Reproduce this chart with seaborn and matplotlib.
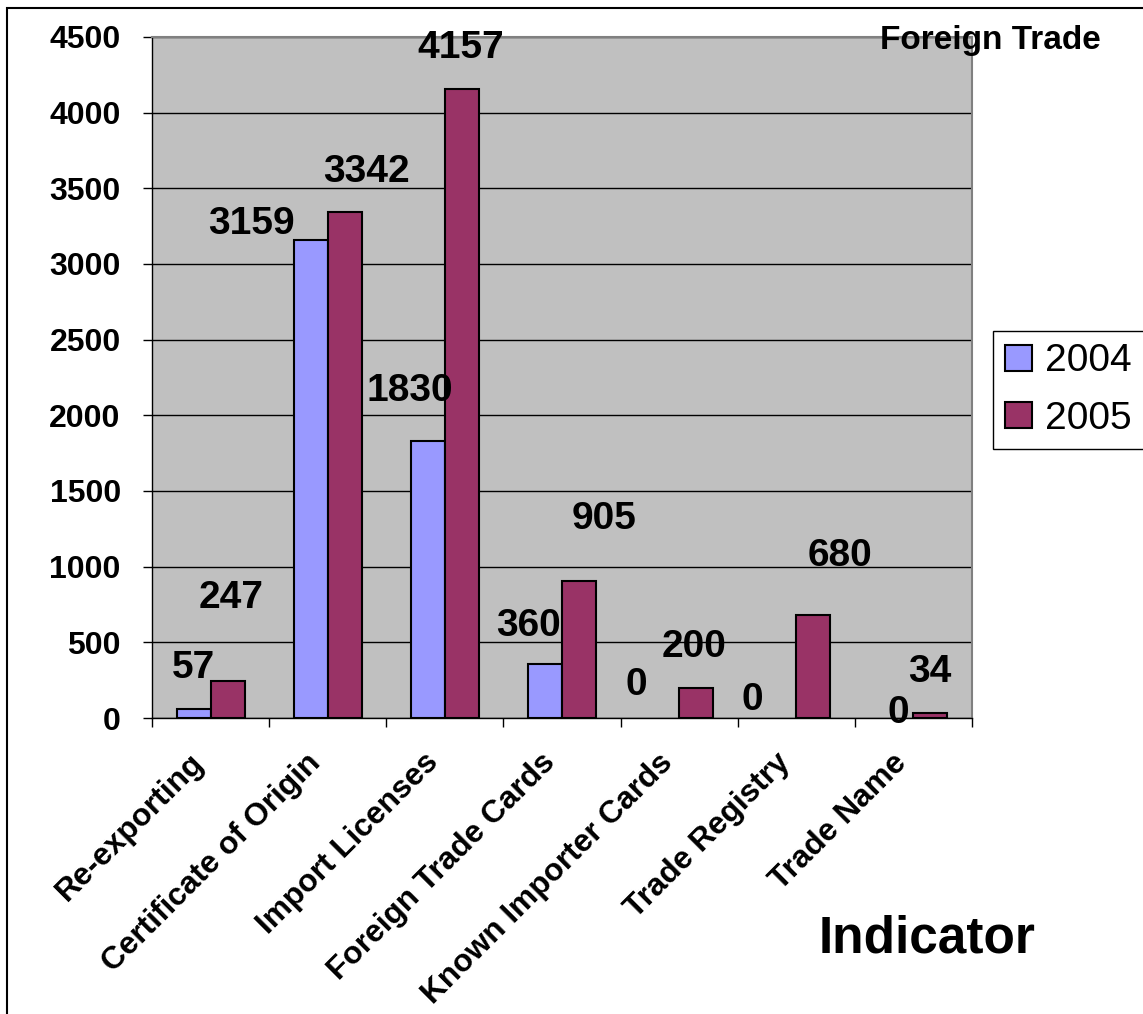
import matplotlib
matplotlib.use("Agg")
import matplotlib.pyplot as plt
import matplotlib.transforms as mtransforms
from matplotlib.patches import Rectangle
from matplotlib.ticker import FixedLocator
import numpy as np
import pandas as pd
import seaborn as sns

# ---------------- data ----------------
categories = ["Re-exporting", "Certificate of Origin", "Import Licenses",
              "Foreign Trade Cards", "Known Importer Cards", "Trade Registry",
              "Trade Name"]
years = ["2004", "2005"]
values_2004 = [57, 3159, 1830, 360, 0, 0, 0]
values_2005 = [247, 3342, 4157, 905, 200, 680, 34]
y_ticks = [0, 500, 1000, 1500, 2000, 2500, 3000, 3500, 4000, 4500]

# ---------------- style ----------------
colors = ["#9999FF", "#993366"]
# label offsets (pixels) from the top-centre of each bar, as placed in the original
label_offsets_2004 = [(0, 41), (-59, 16), (-18, 50), (-17, 38), (-26, 33), (-27, 18), (2, 5)]
label_offsets_2005 = [(4, 83), (22, 40), (-1, 41), (25, 62), (-2, 41), (27, 59), (-1, 41)]

sns.set_theme(style="white")
plt.rcParams["font.family"] = ["Liberation Sans", "DejaVu Sans"]
for key in ["text.color", "axes.labelcolor", "xtick.color", "ytick.color"]:
    plt.rcParams[key] = "black"

W, H = 1143, 1014
fig = plt.figure(figsize=(W / 100, H / 100), dpi=100)
fig.patch.set_facecolor("white")
ax = fig.add_axes([152 / W, 1 - 718 / H, 820 / W, 681 / H])
ax.set_facecolor("#C0C0C0")

df = pd.DataFrame({
    "Indicator": categories * 2,
    "Year": [years[0]] * len(categories) + [years[1]] * len(categories),
    "Count": values_2004 + values_2005,
})

sns.barplot(data=df, x="Indicator", y="Count", hue="Year", palette=colors,
            width=0.58, saturation=1, edgecolor="black", linewidth=1.5,
            ax=ax, errorbar=None)

handles, labels = ax.get_legend_handles_labels()
if ax.get_legend() is not None:
    ax.get_legend().remove()

ax.set_xlim(-0.5, len(categories) - 0.5)
ax.set_ylim(0, 4500)
ax.set_yticks(y_ticks)
ax.set_yticklabels([str(t) for t in y_ticks], fontsize=23, fontweight="bold")
ax.yaxis.grid(True, color="black", linewidth=1)
ax.xaxis.grid(False)
ax.set_axisbelow(True)
ax.tick_params(axis="y", direction="out", length=6.5, width=1, color="black", pad=16, left=True)

ax.set_xticks(range(len(categories)))
ax.set_xticklabels(categories, rotation=45, ha="right", va="center",
                   rotation_mode="anchor", fontsize=22.8, fontweight="bold")
ax.tick_params(axis="x", which="major", length=0, pad=29, bottom=True)
shift = mtransforms.ScaledTranslation(-11 / 100, 0, fig.dpi_scale_trans)
for lbl in ax.get_xticklabels():
    lbl.set_transform(lbl.get_transform() + shift)
ax.xaxis.set_minor_locator(FixedLocator(np.arange(-0.5, len(categories), 1.0)))
ax.tick_params(axis="x", which="minor", direction="out", length=6.5, width=1,
               color="black", bottom=True)
ax.set_xlabel("")
ax.set_ylabel("")

for side in ["left", "bottom"]:
    ax.spines[side].set_color("black")
    ax.spines[side].set_linewidth(1)
for side in ["top", "right"]:
    ax.spines[side].set_color("#808080")
    ax.spines[side].set_linewidth(1.5)

# data labels (zero-height bars are not outlined, as in the original)
for cont, offs in zip(ax.containers, [label_offsets_2004, label_offsets_2005]):
    for bar, (dx, dy) in zip(cont, offs):
        h = bar.get_height()
        if h == 0:
            bar.set_linewidth(0)
        xc = bar.get_x() + bar.get_width() / 2
        ax.annotate(f"{int(round(h))}", xy=(xc, h), xytext=(dx, dy),
                    textcoords="offset pixels", ha="center", va="center",
                    fontsize=28, fontweight="bold", color="black",
                    annotation_clip=False, zorder=5)

# legend
fig.legend(handles, labels, loc="upper left",
           bbox_to_anchor=(993 / W, 1 - 331 / H), bbox_transform=fig.transFigure,
           frameon=True, fancybox=False, edgecolor="black", framealpha=1,
           prop={"size": 28}, handlelength=0.67, handleheight=0.67,
           handletextpad=0.35, borderpad=0.32, labelspacing=0.55, borderaxespad=0)

# title and axis label
fig.text(990 / W, 1 - 40 / H, "Foreign Trade", ha="center", va="center",
         fontsize=24, fontweight="bold")
fig.text(927 / W, 1 - 939 / H, "Indicator", ha="center", va="center",
         fontsize=37, fontweight="bold")

# outer chart border
fig.patches.append(Rectangle((7 / W, -0.1), 1.2, 1 - 8 / H + 0.1,
                             transform=fig.transFigure, fill=False,
                             edgecolor="black", linewidth=1.5, zorder=0))

fig.savefig("out.png", dpi=100)
